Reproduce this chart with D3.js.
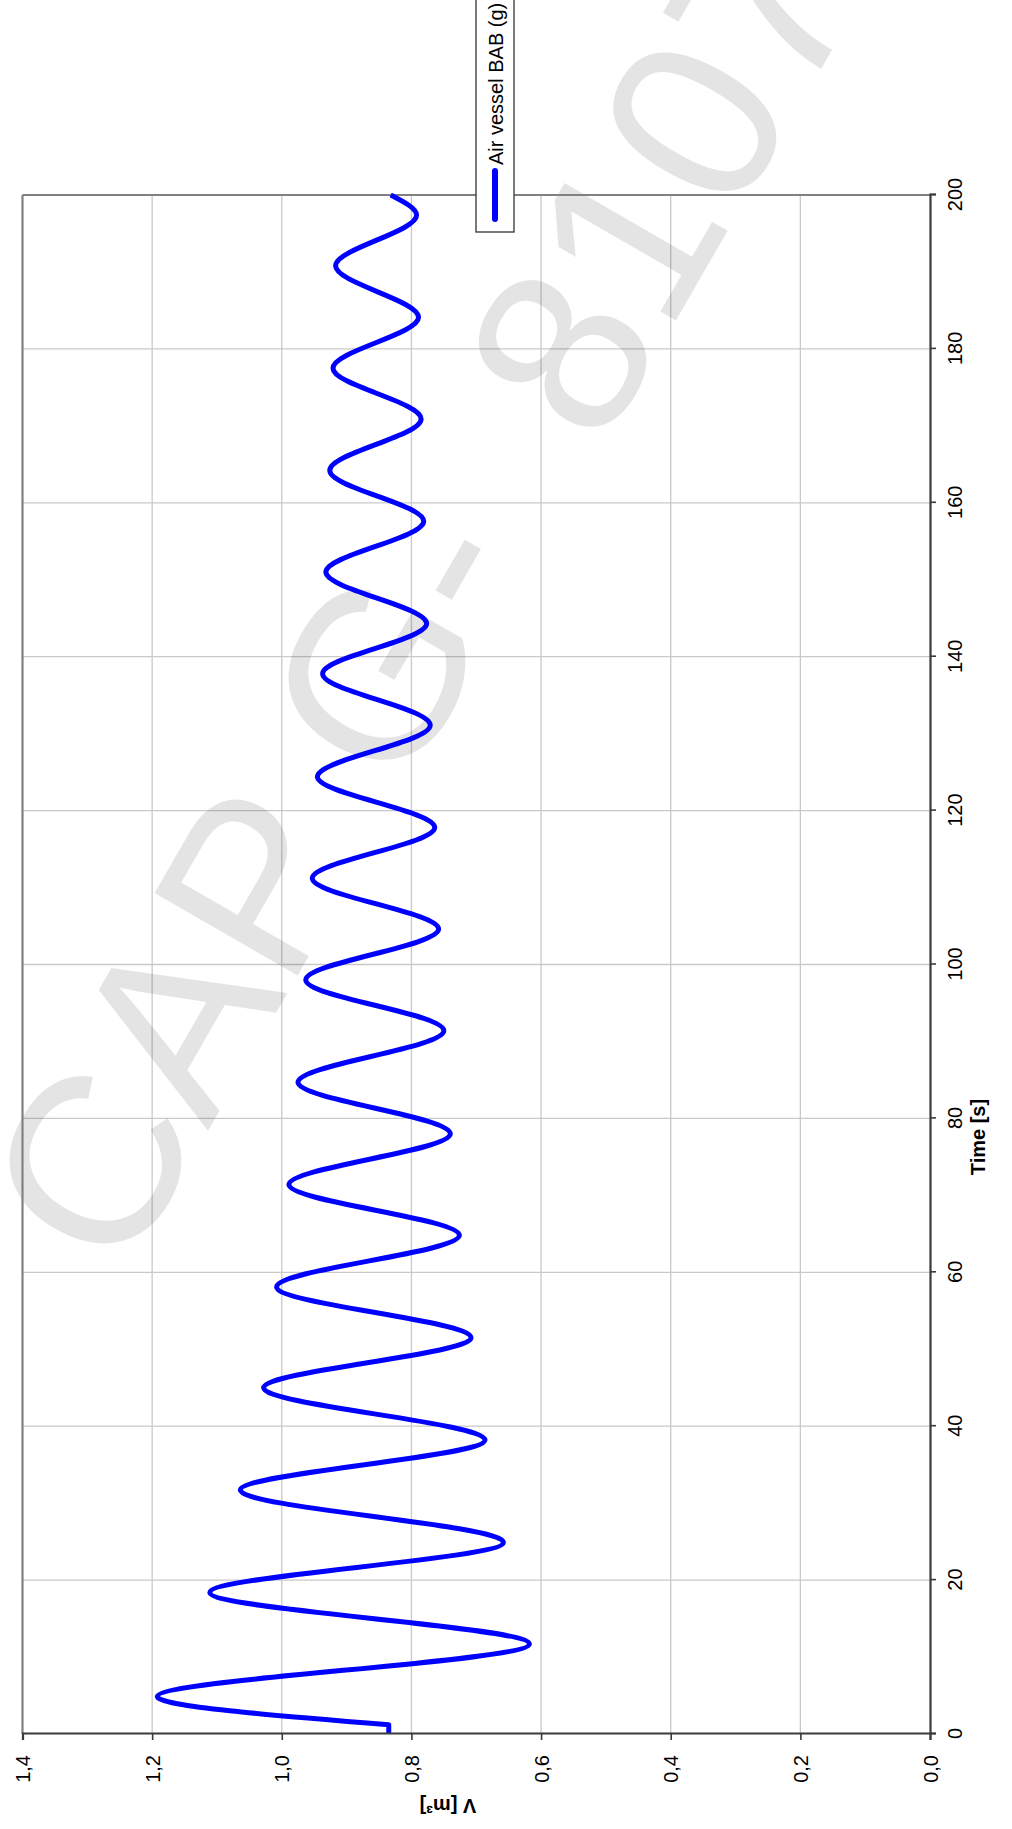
<!DOCTYPE html>
<html>
<head>
<meta charset="utf-8">
<script src="https://cdn.jsdelivr.net/npm/d3@7"></script>
<style>
  html, body { margin: 0; padding: 0; background: #ffffff; }
  svg { display: block; }
  text { font-family: "Liberation Sans", Arial, Helvetica, sans-serif; }
</style>
</head>
<body>
<svg id="chart" width="1012" height="1829"></svg>
<script>
// Air vessel BAB (g): gas volume over time, turning points of the oscillation
const timeS = [0, 1.2, 4.85, 11.7, 18.4, 24.9, 31.7, 38.2, 45.0, 51.5, 58.1, 64.8, 71.4, 78.0,
  84.7, 91.4, 98.0, 104.6, 111.2, 117.8, 124.4, 131.1, 137.8, 144.3, 151.0, 157.6,
  164.2, 170.9, 177.5, 184.1, 190.8, 197.4, 200];
const volume = [0.835, 0.835, 1.192, 0.618, 1.111, 0.658, 1.064, 0.6865, 1.028, 0.708, 1.008, 0.726,
  0.989, 0.740, 0.975, 0.750, 0.963, 0.758, 0.953, 0.764, 0.945, 0.771, 0.937, 0.7765,
  0.932, 0.781, 0.926, 0.785, 0.921, 0.789, 0.917, 0.792, 0.832];

const timeTicks = [0, 20, 40, 60, 80, 100, 120, 140, 160, 180, 200];
const volumeTicks = [0, 0.2, 0.4, 0.6, 0.8, 1.0, 1.2, 1.4];

const seriesName = "Air vessel BAB (g)";
const timeTitle = "Time [s]";
const volumeTitle = "V [m³]";
const stampText = "CAPG-8107";
const stampOffsets = [0, 166.5, 326.5, 565, 698, 938, 1071, 1204, 1337];

// ---- geometry: the chart is laid out landscape and turned a quarter turn ----
const PAGE_W = 1012, PAGE_H = 1829;
const x = d3.scaleLinear().domain([0, 200]).range([95, 1634]);
const y = d3.scaleLinear().domain([0, 1.4]).range([930, 22.5]);
const fmtV = v => d3.format(".1f")(v).replace(".", ",");

const svg = d3.select("#chart");
const turn = `translate(0,${PAGE_H}) rotate(-90)`;

// background grid
const back = svg.append("g").attr("transform", turn);
back.append("g").selectAll("line").data(timeTicks.filter(t => t > 0 && t < 200)).join("line")
  .attr("x1", d => x(d)).attr("x2", d => x(d))
  .attr("y1", y(0)).attr("y2", y(1.4))
  .attr("stroke", "#c9c9c9").attr("stroke-width", 1.3);
back.append("g").selectAll("line").data(volumeTicks.filter(v => v > 0 && v < 1.4)).join("line")
  .attr("x1", x(0)).attr("x2", x(200))
  .attr("y1", d => y(d)).attr("y2", d => y(d))
  .attr("stroke", "#c9c9c9").attr("stroke-width", 1.3);

// stamp across the page
const stamp = svg.append("g").attr("transform", "translate(164.5,1206) rotate(-60)");
const stampEl = stamp.append("text")
  .attr("font-size", 240)
  .attr("text-anchor", "middle")
  .attr("fill", "#000").attr("fill-opacity", 0.105);
stampEl.selectAll("tspan").data(stampText.split("")).join("tspan")
  .attr("x", (d, i) => stampOffsets[i]).attr("y", 0)
  .text(d => d);

// chart body
const g = svg.append("g").attr("transform", turn);

// plot border (top and right sides)
g.append("line").attr("x1", x(0)).attr("x2", x(200)).attr("y1", y(1.4)).attr("y2", y(1.4))
  .attr("stroke", "#808080").attr("stroke-width", 2.2);
g.append("line").attr("x1", x(200)).attr("x2", x(200)).attr("y1", y(0)).attr("y2", y(1.4))
  .attr("stroke", "#808080").attr("stroke-width", 2.2);

// series
const pts = timeS.map((t, i) => [t, volume[i]]);
const hold = pts.slice(0, 2);
const swing = pts.slice(1);
const lineHold = d3.line().x(d => x(d[0])).y(d => y(d[1]));
const lineSwing = d3.line().x(d => x(d[0])).y(d => y(d[1])).curve(d3.curveMonotoneX);
g.append("path")
  .attr("d", lineHold(hold) + lineSwing(swing).replace(/^M[^A-Za-z]*/, m => "L" + m.slice(1)))
  .attr("fill", "none").attr("stroke", "#0000ff").attr("stroke-width", 5)
  .attr("stroke-linejoin", "round");

// axes
const axisColor = "#3a3a3a";
const xAxis = d3.axisBottom(x).tickValues(timeTicks).tickSize(6).tickPadding(0).tickFormat(d3.format("d"));
const yAxis = d3.axisLeft(y).tickValues(volumeTicks).tickSize(6).tickPadding(0).tickFormat(fmtV);

const gx = g.append("g").attr("transform", `translate(0,${y(0)})`).call(xAxis);
const gy = g.append("g").attr("transform", `translate(${x(0)},0)`).call(yAxis);
[gx, gy].forEach(a => {
  a.select(".domain").attr("stroke", axisColor).attr("stroke-width", 2.2);
  a.selectAll(".tick line").attr("stroke", axisColor).attr("stroke-width", 1.6);
  a.selectAll(".tick text").attr("fill", "#000").attr("font-size", 20)
    .attr("font-family", '"Liberation Sans", Arial, sans-serif');
});
gx.selectAll(".tick text").attr("y", 32).attr("dy", null);
gy.selectAll(".tick text").attr("x", -21).attr("dy", "0.35em");

// axis titles
g.append("text").attr("x", 692).attr("y", 985)
  .attr("text-anchor", "middle").attr("font-size", 20).attr("font-weight", "bold")
  .text(timeTitle);
g.append("text").attr("transform", "translate(30,448) rotate(-90)")
  .attr("text-anchor", "middle").attr("font-size", 20).attr("font-weight", "bold")
  .text(volumeTitle);

// legend
const lg = g.append("g");
lg.append("rect").attr("x", 1597).attr("y", 476).attr("width", 300).attr("height", 38)
  .attr("fill", "#fff").attr("stroke", "#333").attr("stroke-width", 1.3);
lg.append("line").attr("x1", 1610).attr("x2", 1658).attr("y1", 495).attr("y2", 495)
  .attr("stroke", "#0000ff").attr("stroke-width", 6).attr("stroke-linecap", "round");
lg.append("text").attr("x", 1664).attr("y", 503).attr("font-size", 20).text(seriesName);
</script>
</body>
</html>
